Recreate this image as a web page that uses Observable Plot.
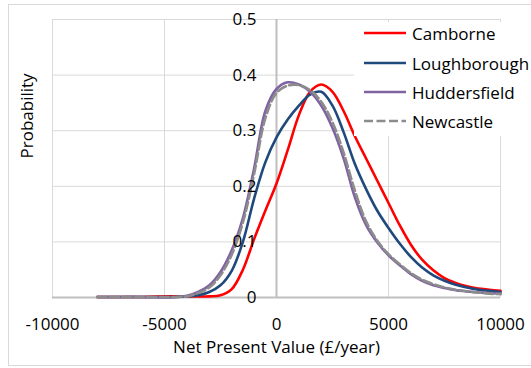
<!DOCTYPE html>
<html>
<head>
<meta charset="utf-8">
<script src="https://cdn.jsdelivr.net/npm/d3@7"></script>
<script src="https://cdn.jsdelivr.net/npm/@observablehq/plot@0.6"></script>
<style>
  body { margin: 0; background: #fff; }
  #wrap { position: relative; width: 531px; height: 368px; overflow: hidden; font-family: "Open Sans", sans-serif; }
  #border { position: absolute; left: 8px; top: 4px; width: 600px; height: 362px; border: 1px solid #d9d9d9; box-sizing: border-box; }
  #chart { position: absolute; left: 0; top: 0; }
  #legend { position: absolute; left: 354px; top: 22px; width: 200px; height: 114px; background: #fff; }
  .item { position: absolute; left: 10px; height: 24px; display: flex; align-items: center; font-size: 17px; color: #000; }
  .item svg { margin-right: 6px; }
</style>
</head>
<body>
<div id="wrap">
  <div id="border"></div>
  <div id="chart"></div>
  <div id="legend"></div>
</div>
<script>
const xs = [-8000,-7000,-6000,-5000,-4500,-4000,-3500,-3000,-2500,-2000,-1500,-1000,-500,0,500,1000,1500,2000,2500,3000,3500,4000,4500,5000,5500,6000,6500,7000,7500,8000,8500,9000,9500,10000];
const camborne = [0.001,0.001,0.001,0.002,0.002,0.002,0.002,0.002,0.004,0.015,0.05,0.105,0.156,0.205,0.265,0.328,0.37,0.383,0.37,0.335,0.29,0.25,0.21,0.17,0.13,0.095,0.068,0.049,0.035,0.026,0.02,0.016,0.014,0.012];
const loughborough = [0.001,0.001,0.001,0.001,0.001,0.002,0.004,0.01,0.022,0.048,0.1,0.178,0.243,0.288,0.32,0.345,0.365,0.37,0.345,0.297,0.24,0.195,0.156,0.125,0.097,0.073,0.054,0.04,0.03,0.023,0.018,0.014,0.012,0.01];
const huddersfield = [0.001,0.001,0.001,0.0,0.001,0.003,0.01,0.022,0.046,0.085,0.143,0.232,0.335,0.375,0.387,0.383,0.37,0.345,0.305,0.25,0.18,0.13,0.099,0.076,0.058,0.042,0.03,0.022,0.017,0.013,0.011,0.009,0.008,0.007];
const newcastle = [0.001,0.001,0.001,0.001,0.001,0.002,0.008,0.018,0.04,0.077,0.135,0.222,0.322,0.368,0.381,0.382,0.373,0.352,0.315,0.26,0.192,0.137,0.102,0.078,0.06,0.044,0.032,0.024,0.018,0.014,0.011,0.009,0.007,0.006];

const seriesNames = ["Camborne","Loughborough","Huddersfield","Newcastle"];
const seriesValues = [camborne, loughborough, huddersfield, newcastle];
const seriesColors = ["#ff0000","#1f497d","#8064a2","#8c8c8c"];
const seriesDash = [null, null, null, "9,3.5"];

const xTicks = [-10000,-5000,0,5000,10000];
const yTicks = [0,0.1,0.2,0.3,0.4,0.5];
const xGrid = [-10000,-5000,5000,10000];
const yGrid = [0.1,0.2,0.3,0.4,0.5];

const lineMarks = seriesNames.map((name, i) => {
  const data = xs.map((x, j) => ({x, y: seriesValues[i][j]}));
  return Plot.line(data, {x: "x", y: "y", stroke: seriesColors[i], strokeWidth: 2.6, strokeDasharray: seriesDash[i] || undefined, curve: "catmull-rom"});
});

const chart = Plot.plot({
  width: 531,
  height: 368,
  marginLeft: 52,
  marginRight: 31,
  marginTop: 19,
  marginBottom: 71,
  style: {fontFamily: "Open Sans", fontSize: "17px", color: "#000", background: "transparent"},
  x: {domain: [-10000, 10000]},
  y: {domain: [0, 0.5], axis: null},
  marks: [
    Plot.ruleY(yGrid, {stroke: "#d9d9d9", strokeWidth: 1}),
    Plot.ruleX(xGrid, {stroke: "#d9d9d9", strokeWidth: 1}),
    Plot.ruleX([0], {stroke: "#bfbfbf", strokeWidth: 2}),
    Plot.ruleY([0], {stroke: "#bfbfbf", strokeWidth: 2}),
    ...lineMarks,
    Plot.axisX(xTicks, {tickSize: 0, tickPadding: 20, tickFormat: d => String(d), label: null, fontSize: 17}),
    Plot.text(yTicks, {x: 0, y: d => d, text: d => String(d), textAnchor: "end", dx: -20, fontSize: 17, fill: "#000"}),
    Plot.text(["Net Present Value (£/year)"], {frameAnchor: "bottom", dy: 55, fontSize: 17, fill: "#000"}),
    Plot.text(["Probability"], {frameAnchor: "left", dx: -25, rotate: -90, fontSize: 17, fill: "#000"})
  ]
});
document.getElementById("chart").appendChild(chart);

const legend = document.getElementById("legend");
const rowTops = [11, 41, 70, 99];
seriesNames.forEach((name, i) => {
  const item = document.createElement("div");
  item.className = "item";
  item.style.top = (rowTops[i] - 12) + "px";
  const dash = seriesDash[i] ? `stroke-dasharray="${seriesDash[i]}"` : "";
  item.innerHTML = `<svg width="42" height="6"><line x1="0" y1="3" x2="42" y2="3" stroke="${seriesColors[i]}" stroke-width="2.6" ${dash}/></svg><span>${name}</span>`;
  legend.appendChild(item);
});
</script>
</body>
</html>
